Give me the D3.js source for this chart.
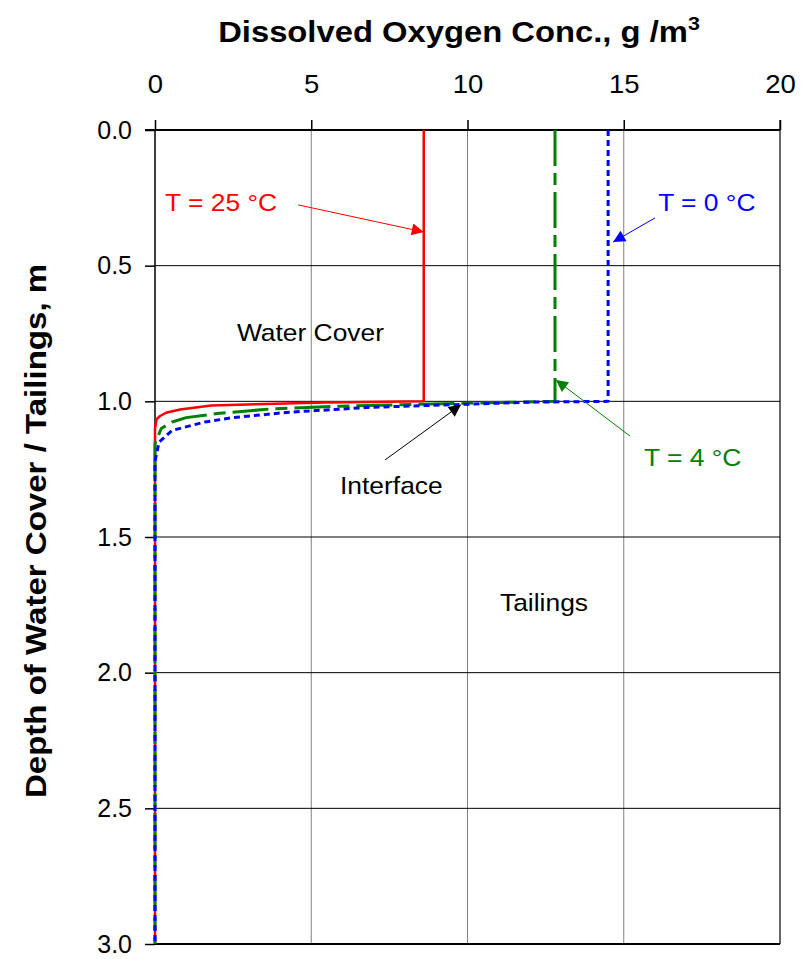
<!DOCTYPE html>
<html><head><meta charset="utf-8">
<script src="https://cdn.jsdelivr.net/npm/d3@7"></script>
<style>body{margin:0;background:#fff}svg{display:block}text{font-family:"Liberation Sans",Arial,sans-serif}</style>
</head><body>
<svg id="c" width="808" height="959"></svg>
<script>
// ---- data ----
const xTicks = [0, 5, 10, 15, 20];
const yTicks = [0.0, 0.5, 1.0, 1.5, 2.0, 2.5, 3.0];
const depth25 = [0, 1.0, 1.004, 1.015, 1.03, 1.042, 1.055, 1.066, 1.10, 3.0];
const do25    = [8.6, 8.6, 5.5, 1.8, 0.8, 0.35, 0.15, 0.05, 0, 0];
const depth4  = [0, 1.0, 1.007, 1.018, 1.028, 1.045, 1.06, 1.076, 1.10, 1.155, 3.0];
const do4     = [12.8, 12.8, 9.9, 5.9, 3.7, 2.0, 1.0, 0.55, 0.2, 0, 0];
const depth0  = [0, 1.0, 1.003, 1.011, 1.022, 1.04, 1.06, 1.076, 1.107, 1.15, 1.22, 3.0];
const do0     = [14.5, 14.5, 12.0, 9.9, 6.9, 4.3, 2.5, 1.6, 0.55, 0.13, 0, 0];
const seriesNames = ["T = 25 °C", "T = 4 °C", "T = 0 °C"];
const seriesColors = ["#ff0000", "#008000", "#0000ff"];
const labelText = ["T = 25 °C", "T = 0 °C", "Water Cover", "Interface", "T = 4 °C", "Tailings"];
const labelX = [0.32, 16.1, 2.62, 5.92, 15.65, 11.04];
const labelY = [0.297, 0.297, 0.776, 1.34, 1.24, 1.771];
const labelColor = ["#ff0000", "#0000ff", "#000000", "#000000", "#008000", "#000000"];
const arrowX1 = [4.58, 16.0, 7.36, 15.2];
const arrowY1 = [0.276, 0.324, 1.216, 1.128];
const arrowX2 = [8.6, 14.66, 9.79, 12.83];
const arrowY2 = [0.376, 0.413, 1.013, 0.921];
const arrowColor = ["#ff0000", "#0000ff", "#000000", "#008000"];

// ---- layout ----
const L = 155, R = 780, T = 130, B = 944;
const SX = 1.1;
const svg = d3.select("#c");
const x = d3.scaleLinear().domain([0, 20]).range([L, R]);
const y = d3.scaleLinear().domain([0, 3]).range([T, B]);

// grid
const g = svg.append("g");
g.selectAll(".vg").data(xTicks.filter(d => d > 0 && d < 20)).join("line")
  .attr("x1", d => x(d)).attr("x2", d => x(d)).attr("y1", T).attr("y2", B)
  .attr("stroke", "#808080").attr("stroke-width", 1);
g.append("line").attr("x1", x(20)).attr("x2", x(20)).attr("y1", T - 10).attr("y2", B)
  .attr("stroke", "#666").attr("stroke-width", 2);
g.selectAll(".hg").data(yTicks.filter(d => d > 0 && d < 3)).join("line")
  .attr("x1", L).attr("x2", R).attr("y1", d => y(d)).attr("y2", d => y(d))
  .attr("stroke", "#000").attr("stroke-width", 1);
g.append("line").attr("x1", L).attr("x2", R).attr("y1", B).attr("y2", B)
  .attr("stroke", "#000").attr("stroke-width", 2);

// axes
const ax = svg.append("g").attr("transform", `translate(0,${T})`)
  .call(d3.axisTop(x).tickValues(xTicks).tickFormat(d3.format("d")).tickSize(10).tickPadding(27));
ax.select(".domain").attr("stroke-width", 2).attr("d", `M${L - 10},0H${R}`);
ax.selectAll(".tick line").attr("stroke-width", 1.5);
ax.selectAll("text").attr("font-size", 25).attr("fill", "#000").attr("transform", `scale(${SX},1)`);

const ay = svg.append("g").attr("transform", `translate(${L},0)`)
  .call(d3.axisLeft(y).tickValues(yTicks).tickFormat(d3.format(".1f")).tickSize(10).tickPadding(13));
ay.select(".domain").attr("stroke-width", 1.5).attr("d", `M0,${T}V${B}`);
ay.selectAll(".tick line").attr("stroke-width", 1.5);
ay.selectAll("text").attr("font-size", 25).attr("fill", "#000").attr("transform", `scale(1.0,1)`);

// series
const lineGen = d3.line().x(d => x(d[0])).y(d => y(d[1]));
const series = [
  {vals: do25, dep: depth25, w: 2.5, dash: null},
  {vals: do4, dep: depth4, w: 3, dash: "36,7,12,7"},
  {vals: do0, dep: depth0, w: 3, dash: "6,4"}
];
series.forEach((s, i) => {
  svg.append("path").datum(s.vals.map((v, j) => [v, s.dep[j]]))
    .attr("d", lineGen).attr("fill", "none")
    .attr("stroke", seriesColors[i]).attr("stroke-width", s.w)
    .attr("stroke-dasharray", s.dash)
    .attr("stroke-linejoin", "round")
    .append("title").text(seriesNames[i]);
});

// arrows
const defs = svg.append("defs");
arrowColor.forEach((c, i) => {
  defs.append("marker").attr("id", "ah" + i).attr("viewBox", "0 0 10 10")
    .attr("refX", 10).attr("refY", 5).attr("markerWidth", 16).attr("markerHeight", 12)
    .attr("markerUnits", "userSpaceOnUse").attr("orient", "auto")
    .append("path").attr("d", "M0,0L10,5L0,10Z").attr("fill", c);
});
arrowX1.forEach((v, i) => {
  svg.append("line").attr("x1", x(v)).attr("y1", y(arrowY1[i]))
    .attr("x2", x(arrowX2[i])).attr("y2", y(arrowY2[i]))
    .attr("stroke", arrowColor[i]).attr("stroke-width", 1)
    .attr("marker-end", `url(#ah${i})`);
});

// labels
labelText.forEach((t, i) => {
  svg.append("g").attr("transform", `translate(${x(labelX[i])},${y(labelY[i])}) scale(${SX},1)`)
    .append("text").attr("font-size", 24).attr("fill", labelColor[i]).text(t);
});

// titles
const tt = svg.append("g").attr("transform", `translate(459,42) scale(1.13,1)`)
  .append("text").attr("text-anchor", "middle").attr("font-size", 29).attr("font-weight", "bold");
tt.append("tspan").text("Dissolved Oxygen Conc., g /m");
tt.append("tspan").attr("font-size", 19).attr("dy", -12).text("3");

svg.append("g").attr("transform", `translate(46,531) rotate(-90) scale(1.14,1)`)
  .append("text").attr("text-anchor", "middle").attr("font-size", 29).attr("font-weight", "bold")
  .text("Depth of Water Cover / Tailings, m");
</script>
</body></html>
